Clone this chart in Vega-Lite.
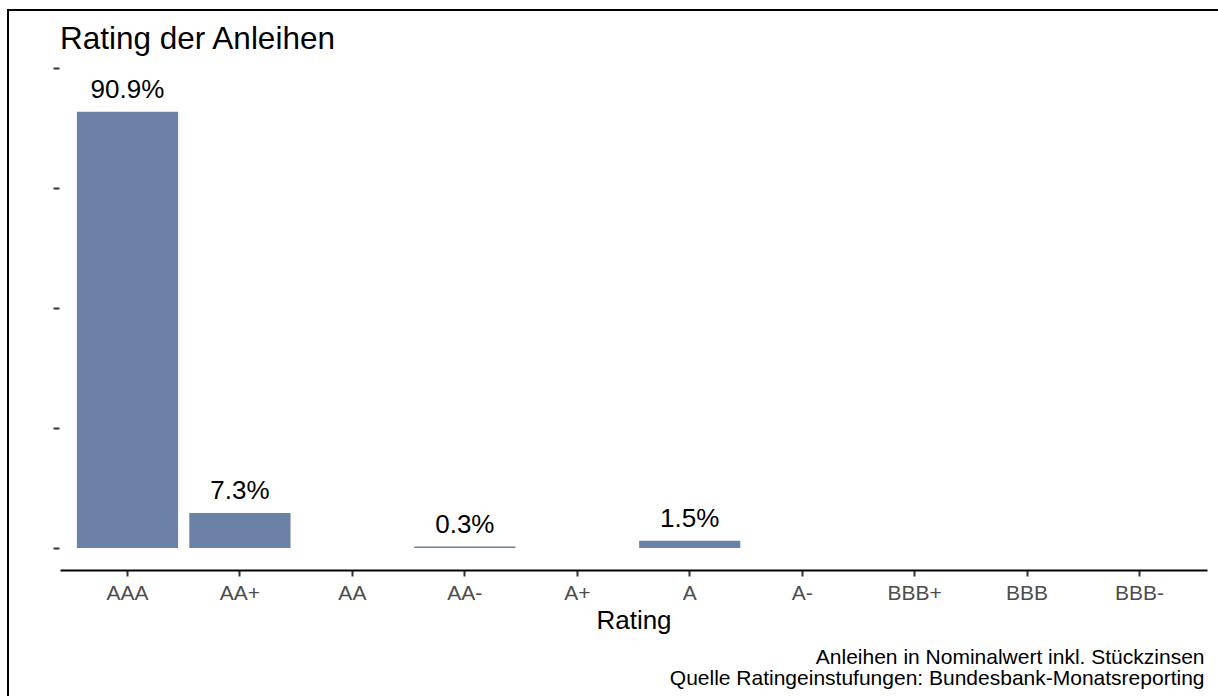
{
  "$schema": "https://vega.github.io/schema/vega-lite/v6.json",
  "autosize": {"type": "none"},
  "padding": {"left": 8, "top": 10, "right": 0, "bottom": 0},
  "width": 1211,
  "height": 687,
  "background": "white",
  "title": {
    "text": "Rating der Anleihen",
    "anchor": "start",
    "frame": "group",
    "offset": -70,
    "dx": 52,
    "baseline": "alphabetic",
    "fontSize": 31.5,
    "fontWeight": "normal",
    "font": "Liberation Sans",
    "color": "black"
  },
  "data": {
    "values": [
      {"rating": "AAA", "share": 0.909},
      {"rating": "AA+", "share": 0.073},
      {"rating": "AA", "share": 0},
      {"rating": "AA-", "share": 0.003},
      {"rating": "A+", "share": 0},
      {"rating": "A", "share": 0.015},
      {"rating": "A-", "share": 0},
      {"rating": "BBB+", "share": 0},
      {"rating": "BBB", "share": 0},
      {"rating": "BBB-", "share": 0}
    ]
  },
  "resolve": {"axis": {"x": "independent"}},
  "layer": [
    {
      "mark": {"type": "bar", "color": "#6B82A6"},
      "encoding": {
        "x": {
          "field": "rating",
          "type": "nominal",
          "sort": null,
          "scale": {"type": "band", "paddingInner": 0.1, "paddingOuter": 0.15, "range": [52, 1199]},
          "axis": {
            "title": "Rating",
            "orient": "bottom",
            "offset": -127,
            "labelAngle": 0,
            "labelFontSize": 21,
            "labelColor": "#4d4d4d",
            "labelPadding": 6,
            "tickSize": 6,
            "tickWidth": 2,
            "tickColor": "#333333",
            "domainColor": "black",
            "domainWidth": 2,
            "titleFontSize": 26,
            "titleFontWeight": "normal",
            "titleColor": "black",
            "titlePadding": 4,
            "grid": false
          }
        },
        "y": {
          "field": "share",
          "type": "quantitative",
          "scale": {"domain": [-0.04583, 1.05], "range": [560, 34], "nice": false, "zero": false},
          "axis": {"values": [0, 0.25, 0.5, 0.75, 1], "offset": -51, "title": null}
        }
      }
    },
    {
      "transform": [{"filter": "datum.share > 0"}],
      "mark": {"type": "text", "baseline": "alphabetic", "dy": -14, "fontSize": 26, "color": "black"},
      "encoding": {
        "x": {
          "field": "rating",
          "type": "nominal",
          "sort": null,
          "axis": {
            "title": ["Anleihen in Nominalwert inkl. Stückzinsen", "Quelle Ratingeinstufungen: Bundesbank-Monatsreporting"],
            "orient": "bottom",
            "offset": -127,
            "labels": false,
            "ticks": false,
            "domain": false,
            "grid": false,
            "titleX": 1196,
            "titleY": 93,
            "titleAlign": "right",
            "titleAnchor": "end",
            "titleBaseline": "alphabetic",
            "titleAngle": 0,
            "titleFontSize": 21,
            "titleLineHeight": 21,
            "titleFontWeight": "normal",
            "titleColor": "black"
          }
        },
        "y": {
          "field": "share",
          "type": "quantitative",
          "axis": {"values": [0, 0.25, 0.5, 0.75, 1], "offset": -51, "title": null}
        },
        "text": {"field": "share", "type": "quantitative", "format": ".1%"}
      }
    }
  ],
  "config": {
    "font": "Liberation Sans",
    "view": {"stroke": "black", "strokeWidth": 2},
    "axisY": {
      "domain": false,
      "labels": false,
      "grid": false,
      "ticks": true,
      "tickSize": 6,
      "tickWidth": 2,
      "tickColor": "#333333"
    }
  }
}
